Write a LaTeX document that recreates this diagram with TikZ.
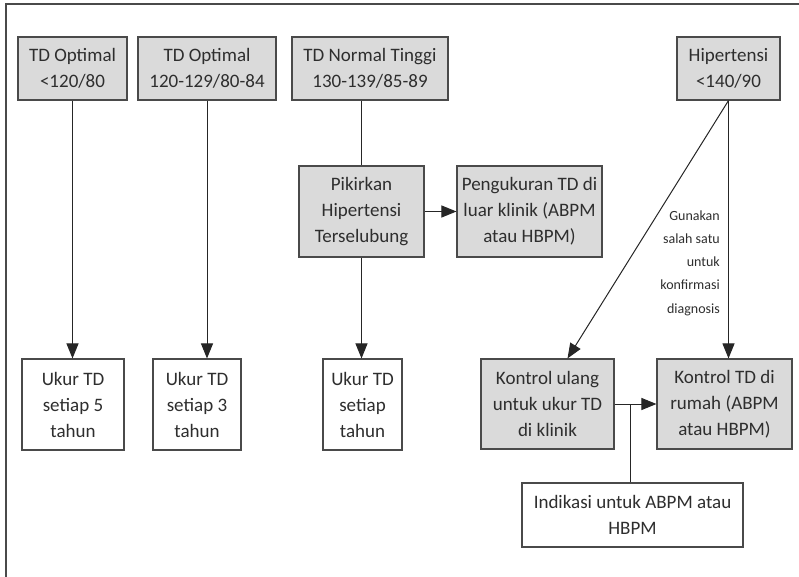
\documentclass[tikz,border=0pt]{standalone}
\usepackage{fontspec}
\setmainfont{Carlito}
\usetikzlibrary{arrows.meta,positioning,calc}
\definecolor{flowgrey}{HTML}{DADADA}
\definecolor{flowline}{HTML}{4A4A4A}
\definecolor{flowtext}{HTML}{2E2E2E}

\begin{document}
\begin{tikzpicture}[x=1pt,y=-1pt,
  box/.style={draw=flowline,line width=1.1pt,fill=flowgrey,align=center,
              inner sep=2pt,text=flowtext,font=\fontsize{19}{26}\selectfont},
  wbox/.style={box,fill=white},
  arr/.style={-{Triangle[length=15pt,width=12pt]},line width=1pt,black!85},
  lin/.style={line width=1pt,black!85}]
  \useasboundingbox (0,0) rectangle (799,577);
  \draw[flowline,line width=1.4pt] (6,577) -- (6,4) -- (799,4);
  % top row
  \node[box,minimum width=109pt,minimum height=63pt] (opt1) at (72.5,68.5) {TD Optimal\\<120/80};
  \node[box,minimum width=138pt,minimum height=63pt] (opt2) at (207,68.5) {TD Optimal\\120-129/80-84};
  \node[box,minimum width=156pt,minimum height=63pt] (norm) at (370,68.5) {TD Normal Tinggi\\130-139/85-89};
  \node[box,minimum width=103pt,minimum height=63pt] (hip) at (728.5,68.5) {Hipertensi\\<140/90};
  % middle row
  \node[box,minimum width=125pt,minimum height=91pt] (pik) at (361.5,211.5) {Pikirkan\\Hipertensi\\Terselubung};
  \node[box,minimum width=145pt,minimum height=91pt] (peng) at (529.5,211.5) {Pengukuran TD di\\luar klinik (ABPM\\atau HBPM)};
  % bottom row
  \node[wbox,minimum width=102pt,minimum height=91pt] (ukur1) at (73,404.5) {Ukur TD\\setiap 5\\tahun};
  \node[wbox,minimum width=88pt,minimum height=91pt] (ukur2) at (197,404.5) {Ukur TD\\setiap 3\\tahun};
  \node[wbox,minimum width=79pt,minimum height=91pt] (ukur3) at (362.5,404.5) {Ukur TD\\setiap\\tahun};
  \node[box,minimum width=133pt,minimum height=90pt] (kul) at (547.5,404) {Kontrol ulang\\untuk ukur TD\\di klinik};
  \node[box,minimum width=135pt,minimum height=90pt] (krum) at (724.5,404) {Kontrol TD di\\rumah (ABPM\\atau HBPM)};
  \node[wbox,minimum width=221pt,minimum height=64pt] (ind) at (632.5,515) {Indikasi untuk ABPM atau\\HBPM};
  \node[align=right,anchor=east,text=flowtext,inner sep=0pt,
        font=\fontsize{14}{23.3}\selectfont] (note) at (720,263)
        {Gunakan\\salah satu\\untuk\\konfirmasi\\diagnosis};
  % connectors
  \draw[arr] (opt1.south) -- (opt1.south |- ukur1.north);
  \draw[arr] (opt2.south) -- (opt2.south |- ukur2.north);
  \draw[lin] (norm.south -| pik.north) -- (pik.north);
  \draw[arr] (pik.south) -- (pik.south |- ukur3.north);
  \draw[arr] (pik.east) -- (peng.west);
  \draw[arr] (hip.south) -- (hip.south |- krum.north);
  \draw[arr] (hip.south) -- ([xshift=20pt]kul.north);
  \draw[arr] (kul.east) -- (krum.west);
  \draw[lin] (ind.north -| 630,0) -- (kul.east -| 630,0);
\end{tikzpicture}
\end{document}
